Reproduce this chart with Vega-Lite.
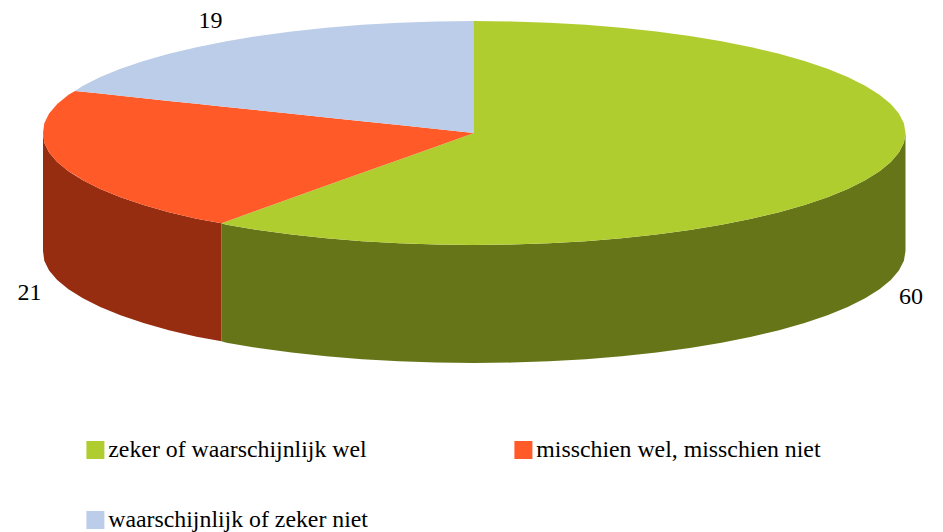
{"$schema":"https://vega.github.io/schema/vega-lite/v6.json","width":943,"height":532,"padding":0,"autosize":{"type":"none"},"background":"white","view":{"stroke":null},
"datasets":{"labels":[{"category":"zeker of waarschijnlijk wel","value":60,"x":911,"y":297},{"category":"misschien wel, misschien niet","value":21,"x":29.5,"y":293},{"category":"waarschijnlijk of zeker niet","value":19,"x":210.5,"y":21}],
"shape":[
{"part":"sideGreen","x":221.5,"y":223.3,"y2":341.3},{"part":"sideGreen","x":226.5,"y":224.8,"y2":342.8},{"part":"sideGreen","x":258.2,"y":230,"y2":348},{"part":"sideGreen","x":291.6,"y":234.5,"y2":352.5},{"part":"sideGreen","x":326.4,"y":238.2,"y2":356.2},{"part":"sideGreen","x":362.3,"y":241.2,"y2":359.2},{"part":"sideGreen","x":399.1,"y":243.3,"y2":361.3},{"part":"sideGreen","x":436.4,"y":244.6,"y2":362.6},{"part":"sideGreen","x":474,"y":245,"y2":363},{"part":"sideGreen","x":511.6,"y":244.6,"y2":362.6},{"part":"sideGreen","x":548.9,"y":243.3,"y2":361.3},{"part":"sideGreen","x":585.7,"y":241.2,"y2":359.2},{"part":"sideGreen","x":621.6,"y":238.2,"y2":356.2},{"part":"sideGreen","x":656.4,"y":234.5,"y2":352.5},{"part":"sideGreen","x":689.8,"y":230,"y2":348},{"part":"sideGreen","x":721.5,"y":224.8,"y2":342.8},{"part":"sideGreen","x":751.4,"y":218.8,"y2":336.8},{"part":"sideGreen","x":779.1,"y":212.2,"y2":330.2},{"part":"sideGreen","x":804.5,"y":205,"y2":323},{"part":"sideGreen","x":827.5,"y":197.2,"y2":315.2},{"part":"sideGreen","x":847.7,"y":189,"y2":307},{"part":"sideGreen","x":865.1,"y":180.3,"y2":298.3},{"part":"sideGreen","x":879.5,"y":171.3,"y2":289.3},{"part":"sideGreen","x":890.8,"y":162,"y2":280},{"part":"sideGreen","x":898.9,"y":152.4,"y2":270.4},{"part":"sideGreen","x":903.9,"y":142.8,"y2":260.8},{"part":"sideGreen","x":905.5,"y":133,"y2":251},
{"part":"sideRed","x":43,"y":133,"y2":251},{"part":"sideRed","x":44.3,"y":142.8,"y2":260.8},{"part":"sideRed","x":49.1,"y":152.4,"y2":270.4},{"part":"sideRed","x":57.2,"y":162,"y2":280},{"part":"sideRed","x":68.5,"y":171.3,"y2":289.3},{"part":"sideRed","x":82.9,"y":180.3,"y2":298.3},{"part":"sideRed","x":100.3,"y":189,"y2":307},{"part":"sideRed","x":120.5,"y":197.2,"y2":315.2},{"part":"sideRed","x":143.5,"y":205,"y2":323},{"part":"sideRed","x":168.9,"y":212.2,"y2":330.2},{"part":"sideRed","x":196.6,"y":218.8,"y2":336.8},{"part":"sideRed","x":221.5,"y":223.3,"y2":341.3},
{"part":"greenL","category":"zeker of waarschijnlijk wel","x":221.5,"y":223.3,"y2":223.3},{"part":"greenL","category":"zeker of waarschijnlijk wel","x":226.5,"y":221.5,"y2":224.8},{"part":"greenL","category":"zeker of waarschijnlijk wel","x":258.2,"y":210,"y2":230},{"part":"greenL","category":"zeker of waarschijnlijk wel","x":291.6,"y":198.1,"y2":234.5},{"part":"greenL","category":"zeker of waarschijnlijk wel","x":326.4,"y":185.6,"y2":238.2},{"part":"greenL","category":"zeker of waarschijnlijk wel","x":362.3,"y":172.8,"y2":241.2},{"part":"greenL","category":"zeker of waarschijnlijk wel","x":399.1,"y":159.7,"y2":243.3},{"part":"greenL","category":"zeker of waarschijnlijk wel","x":436.4,"y":146.4,"y2":244.6},{"part":"greenL","category":"zeker of waarschijnlijk wel","x":474,"y":133,"y2":245},
{"part":"greenR","category":"zeker of waarschijnlijk wel","x":474,"y":21,"y2":245},{"part":"greenR","category":"zeker of waarschijnlijk wel","x":511.6,"y":21.4,"y2":244.6},{"part":"greenR","category":"zeker of waarschijnlijk wel","x":548.9,"y":22.7,"y2":243.3},{"part":"greenR","category":"zeker of waarschijnlijk wel","x":585.7,"y":24.8,"y2":241.2},{"part":"greenR","category":"zeker of waarschijnlijk wel","x":621.6,"y":27.8,"y2":238.2},{"part":"greenR","category":"zeker of waarschijnlijk wel","x":656.4,"y":31.5,"y2":234.5},{"part":"greenR","category":"zeker of waarschijnlijk wel","x":689.8,"y":36,"y2":230},{"part":"greenR","category":"zeker of waarschijnlijk wel","x":721.5,"y":41.2,"y2":224.8},{"part":"greenR","category":"zeker of waarschijnlijk wel","x":751.4,"y":47.2,"y2":218.8},{"part":"greenR","category":"zeker of waarschijnlijk wel","x":779.1,"y":53.8,"y2":212.2},{"part":"greenR","category":"zeker of waarschijnlijk wel","x":804.5,"y":61,"y2":205},{"part":"greenR","category":"zeker of waarschijnlijk wel","x":827.5,"y":68.8,"y2":197.2},{"part":"greenR","category":"zeker of waarschijnlijk wel","x":847.7,"y":77,"y2":189},{"part":"greenR","category":"zeker of waarschijnlijk wel","x":865.1,"y":85.7,"y2":180.3},{"part":"greenR","category":"zeker of waarschijnlijk wel","x":879.5,"y":94.7,"y2":171.3},{"part":"greenR","category":"zeker of waarschijnlijk wel","x":890.8,"y":104,"y2":162},{"part":"greenR","category":"zeker of waarschijnlijk wel","x":898.9,"y":113.6,"y2":152.4},{"part":"greenR","category":"zeker of waarschijnlijk wel","x":903.9,"y":123.2,"y2":142.8},{"part":"greenR","category":"zeker of waarschijnlijk wel","x":905.5,"y":133,"y2":133},
{"part":"red","category":"misschien wel, misschien niet","x":474,"y":133,"y2":133},{"part":"red","category":"misschien wel, misschien niet","x":436.4,"y":129,"y2":146.4},{"part":"red","category":"misschien wel, misschien niet","x":399.1,"y":125.1,"y2":159.7},{"part":"red","category":"misschien wel, misschien niet","x":362.3,"y":121.2,"y2":172.8},{"part":"red","category":"misschien wel, misschien niet","x":326.4,"y":117.5,"y2":185.6},{"part":"red","category":"misschien wel, misschien niet","x":291.6,"y":113.8,"y2":198.1},{"part":"red","category":"misschien wel, misschien niet","x":258.2,"y":110.3,"y2":210},{"part":"red","category":"misschien wel, misschien niet","x":226.5,"y":106.9,"y2":221.5},{"part":"red","category":"misschien wel, misschien niet","x":221.5,"y":106.4,"y2":223.3},{"part":"red","category":"misschien wel, misschien niet","x":196.6,"y":103.8,"y2":218.8},{"part":"red","category":"misschien wel, misschien niet","x":168.9,"y":100.9,"y2":212.2},{"part":"red","category":"misschien wel, misschien niet","x":143.5,"y":98.2,"y2":205},{"part":"red","category":"misschien wel, misschien niet","x":120.5,"y":95.8,"y2":197.2},{"part":"red","category":"misschien wel, misschien niet","x":100.3,"y":93.6,"y2":189},{"part":"red","category":"misschien wel, misschien niet","x":82.9,"y":91.8,"y2":180.3},{"part":"red","category":"misschien wel, misschien niet","x":75,"y":91,"y2":175},{"part":"red","category":"misschien wel, misschien niet","x":68.5,"y":94.7,"y2":171.3},{"part":"red","category":"misschien wel, misschien niet","x":57.2,"y":104,"y2":162},{"part":"red","category":"misschien wel, misschien niet","x":49.1,"y":113.6,"y2":152.4},{"part":"red","category":"misschien wel, misschien niet","x":44.3,"y":123.2,"y2":142.8},{"part":"red","category":"misschien wel, misschien niet","x":43,"y":133,"y2":133},
{"part":"blue","category":"waarschijnlijk of zeker niet","x":474,"y":21,"y2":133},{"part":"blue","category":"waarschijnlijk of zeker niet","x":436.4,"y":21.4,"y2":129},{"part":"blue","category":"waarschijnlijk of zeker niet","x":399.1,"y":22.7,"y2":125.1},{"part":"blue","category":"waarschijnlijk of zeker niet","x":362.3,"y":24.8,"y2":121.2},{"part":"blue","category":"waarschijnlijk of zeker niet","x":326.4,"y":27.8,"y2":117.5},{"part":"blue","category":"waarschijnlijk of zeker niet","x":291.6,"y":31.5,"y2":113.8},{"part":"blue","category":"waarschijnlijk of zeker niet","x":258.2,"y":36,"y2":110.3},{"part":"blue","category":"waarschijnlijk of zeker niet","x":226.5,"y":41.2,"y2":106.9},{"part":"blue","category":"waarschijnlijk of zeker niet","x":196.6,"y":47.2,"y2":103.8},{"part":"blue","category":"waarschijnlijk of zeker niet","x":168.9,"y":53.8,"y2":100.9},{"part":"blue","category":"waarschijnlijk of zeker niet","x":143.5,"y":61,"y2":98.2},{"part":"blue","category":"waarschijnlijk of zeker niet","x":120.5,"y":68.8,"y2":95.8},{"part":"blue","category":"waarschijnlijk of zeker niet","x":100.3,"y":77,"y2":93.6},{"part":"blue","category":"waarschijnlijk of zeker niet","x":82.9,"y":85.7,"y2":91.8},{"part":"blue","category":"waarschijnlijk of zeker niet","x":75,"y":91,"y2":91}
]},
"encoding":{"x":{"field":"x","type":"quantitative","axis":null,"scale":{"domain":[0,943],"nice":false,"zero":false}},"y":{"field":"y","type":"quantitative","axis":null,"stack":null,"scale":{"domain":[532,0],"nice":false,"zero":false}}},
"layer":[
{"data":{"name":"shape"},"transform":[{"filter":"datum.part==='sideGreen'"}],"mark":{"type":"area","orient":"vertical","color":"#667518"},"encoding":{"y2":{"field":"y2"}}},
{"data":{"name":"shape"},"transform":[{"filter":"datum.part==='sideRed'"}],"mark":{"type":"area","orient":"vertical","color":"#962c10"},"encoding":{"y2":{"field":"y2"}}},
{"data":{"name":"shape"},"transform":[{"filter":"datum.category"}],"mark":{"type":"area","orient":"vertical"},"encoding":{"y2":{"field":"y2"},"detail":{"field":"part"},"color":{"field":"category","type":"nominal","scale":{"domain":["zeker of waarschijnlijk wel","waarschijnlijk of zeker niet","misschien wel, misschien niet"],"range":["#b0cd30","#bccde9","#ff5a28"]},"legend":{"title":null,"orient":"none","legendX":83.5,"legendY":439,"columns":2,"columnPadding":143,"rowPadding":46,"symbolType":"square","symbolSize":324,"symbolStrokeWidth":0,"symbolOpacity":1,"labelFont":"Liberation Serif","labelFontSize":23.8,"labelColor":"#000000","labelOffset":1,"labelLimit":400,"clipHeight":22}}}},
{"data":{"name":"labels"},"mark":{"type":"text","font":"Liberation Serif","fontSize":24,"color":"#000000","align":"center","baseline":"middle"},"encoding":{"text":{"field":"value","type":"quantitative"}}}
]}
